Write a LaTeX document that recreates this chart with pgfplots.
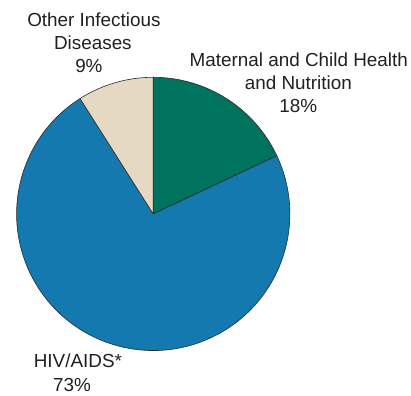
\documentclass[border=0pt]{standalone}
\usepackage{pgfplots}
\usepackage{pgfplotstable}
\usepackage{fontspec}
\setmainfont{Liberation Sans}
\pgfplotsset{compat=1.18}
\definecolor{mch}{HTML}{00735F}
\definecolor{hiv}{HTML}{1479AE}
\definecolor{oth}{HTML}{E6D9C3}
\definecolor{txt}{HTML}{231F20}
\definecolor{edge}{HTML}{2A2A2A}

\pgfplotstableread{
category share
Maternal 18
HIV 73
Other 9
}\piedata

\begin{document}
\begin{tikzpicture}
\pgfplotstablegetelem{0}{share}\of\piedata \pgfmathsetmacro\va{\pgfplotsretval}
\pgfplotstablegetelem{1}{share}\of\piedata \pgfmathsetmacro\vb{\pgfplotsretval}
\pgfplotstablegetelem{2}{share}\of\piedata \pgfmathsetmacro\vc{\pgfplotsretval}
\pgfmathsetmacro\aA{90}
\pgfmathsetmacro\aB{\aA-3.6*\va}
\pgfmathsetmacro\aC{\aB-3.6*\vb}
\pgfmathsetmacro\aD{\aC-3.6*\vc}
\begin{axis}[scale only axis, width=411bp, height=397bp,
  xmin=0, xmax=411, ymin=0, ymax=397, hide axis, clip=false]
\path (axis cs:0,0) rectangle (axis cs:411,397);
\filldraw[fill=mch, draw=edge, line width=0.6bp, line join=round]
  (axis cs:152.5,182.5) -- ++(\aA:137bp) arc[start angle=\aA, end angle=\aB, radius=137bp] -- cycle;
\filldraw[fill=hiv, draw=edge, line width=0.6bp, line join=round]
  (axis cs:152.5,182.5) -- ++(\aB:137bp) arc[start angle=\aB, end angle=\aC, radius=137bp] -- cycle;
\filldraw[fill=oth, draw=edge, line width=0.6bp, line join=round]
  (axis cs:152.5,182.5) -- ++(\aC:137bp) arc[start angle=\aC, end angle=\aD, radius=137bp] -- cycle;
\tikzset{lbl/.style={anchor=base, inner sep=0pt, text=txt, font=\fontsize{19}{23}\selectfont}}
\node[lbl] at (axis cs:93,370) {Other Infectious};
\node[lbl] at (axis cs:92,347) {Diseases};
\node[lbl] at (axis cs:88,324) {9\%};
\node[lbl] at (axis cs:298.5,330) {Maternal and Child Health};
\node[lbl] at (axis cs:298,307.5) {and Nutrition};
\node[lbl] at (axis cs:298,284) {18\%};
\node[lbl] at (axis cs:77,28) {HIV/AIDS*};
\node[lbl] at (axis cs:71,4) {73\%};
\end{axis}
\end{tikzpicture}
\end{document}
